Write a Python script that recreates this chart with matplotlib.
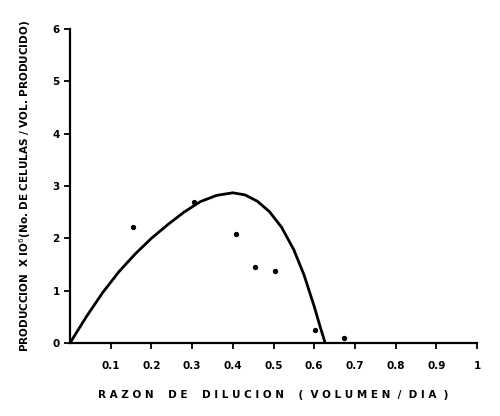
import matplotlib
matplotlib.use('Agg')
import matplotlib.pyplot as plt

# measured points (dilution rate vs production x10^6)
dil_pts = [0.156, 0.304, 0.409, 0.455, 0.504, 0.602, 0.673]
prod_pts = [2.21, 2.69, 2.08, 1.45, 1.38, 0.25, 0.09]

# fitted curve
dil_curve = [0.0, 0.04, 0.08, 0.12, 0.16, 0.20, 0.24, 0.28, 0.32, 0.36, 0.40,
             0.43, 0.46, 0.49, 0.52, 0.55, 0.575, 0.60, 0.615, 0.627]
prod_curve = [0.0, 0.50, 0.96, 1.36, 1.70, 2.00, 2.26, 2.50, 2.70, 2.82, 2.87,
              2.83, 2.71, 2.51, 2.21, 1.78, 1.30, 0.70, 0.30, 0.0]

x_ticks = [0.1, 0.2, 0.3, 0.4, 0.5, 0.6, 0.7, 0.8, 0.9, 1.0]
x_labels = ['0.1', '0.2', '0.3', '0.4', '0.5', '0.6', '0.7', '0.8', '0.9', '1']
y_ticks = [0, 1, 2, 3, 4, 5, 6]

fig = plt.figure(figsize=(5, 4.16), dpi=100)
ax = fig.add_axes([0.14, 0.1755, 0.814, 0.7548])

ax.plot(dil_curve, prod_curve, color='black', linewidth=2, solid_joinstyle='round')
ax.plot(dil_pts, prod_pts, 'o', color='black', markersize=2.8)

ax.set_xlim(0, 1)
ax.set_ylim(0, 6)
ax.spines['top'].set_visible(False)
ax.spines['right'].set_visible(False)
for s in ['left', 'bottom']:
    ax.spines[s].set_linewidth(1.6)

ax.set_xticks(x_ticks)
ax.set_xticklabels(x_labels)
ax.set_yticks(y_ticks)
ax.tick_params(axis='both', direction='out', length=4, width=1.3, labelsize=7.5)
ax.tick_params(axis='x', pad=9)
for lab in ax.get_xticklabels() + ax.get_yticklabels():
    lab.set_fontweight('bold')

ax.set_xlabel('R A Z O N    D E    D I L U C I O N    (  V O L U M E N  /  D I A  )',
              fontsize=7.5, fontweight='bold', labelpad=14)
ax.set_ylabel(r'PRODUCCION  X IO$^{6}$(No. DE CELULAS / VOL. PRODUCIDO)',
              fontsize=7.5, fontweight='bold')
ax.yaxis.set_label_coords(-0.09, 0.5)

fig.savefig('out.png', dpi=100)
